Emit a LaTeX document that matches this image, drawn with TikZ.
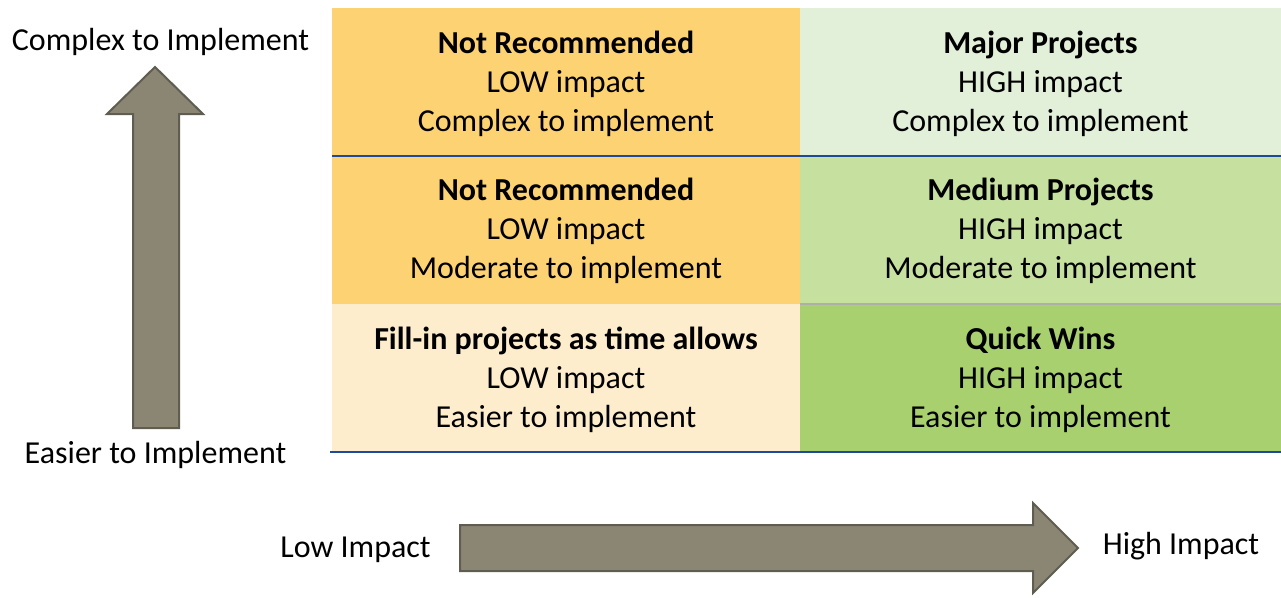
\documentclass[tikz,border=0pt]{standalone}
\usepackage{fontspec}
\setmainfont{Carlito}
\definecolor{orangec}{RGB}{253,210,115}
\definecolor{creamc}{RGB}{254,237,204}
\definecolor{lgreen}{RGB}{226,239,217}
\definecolor{mgreen}{RGB}{198,224,160}
\definecolor{dgreen}{RGB}{169,208,110}
\definecolor{bluel}{RGB}{31,73,154}
\definecolor{grayl}{RGB}{175,175,170}
\definecolor{arrfill}{RGB}{139,134,116}
\definecolor{arrdraw}{RGB}{95,92,80}
\tikzset{
  cell/.style={rectangle, inner sep=0pt, minimum width=468pt, minimum height=148pt},
  celltext/.style={inner sep=0pt, align=center, font=\fontsize{32}{38.8}\selectfont},
  axislabel/.style={inner sep=0pt, font=\fontsize{32}{38.8}\selectfont},
  bigarrow/.style={fill=arrfill, draw=arrdraw, line width=2pt, line join=miter},
  bline/.style={draw=bluel, line width=2pt},
  gline/.style={draw=grayl, line width=2pt}
}
\begin{document}
\begin{tikzpicture}[x=1pt,y=-1pt]
\useasboundingbox (0,0) rectangle (1281,597);
% cells
\node[cell, fill=orangec] (c11) at (566,81.5) {};
\node[cell, fill=lgreen, minimum width=481pt] (c12) at (1040.5,81.5) {};
\node[cell, fill=orangec] (c21) at (566,229.5) {};
\node[cell, fill=mgreen, minimum width=481pt] (c22) at (1040.5,229.5) {};
\node[cell, fill=creamc] (c31) at (566,377.5) {};
\node[cell, fill=dgreen, minimum width=481pt] (c32) at (1040.5,377.5) {};
% cell texts
\node[celltext] (t11) at ([yshift=-2.5pt]c11.center) {\textbf{Not Recommended}\\LOW impact\\Complex to implement};
\node[celltext] (t12) at ([yshift=-2.5pt]c12.center) {\textbf{Major Projects}\\HIGH impact\\Complex to implement};
\node[celltext] (t21) at ([yshift=-1.5pt]c21.center) {\textbf{Not Recommended}\\LOW impact\\Moderate to implement};
\node[celltext] (t22) at ([yshift=-1.5pt]c22.center) {\textbf{Medium Projects}\\HIGH impact\\Moderate to implement};
\node[celltext] (t31) at ([yshift=-2.5pt]c31.center) {\textbf{Fill-in projects as time allows}\\LOW impact\\Easier to implement};
\node[celltext] (t32) at ([yshift=-2.5pt]c32.center) {\textbf{Quick Wins}\\HIGH impact\\Easier to implement};
% grid lines
\draw[bline] (c11.south west) -- (c12.south east);
\draw[gline] (c22.south west) -- (c22.south east);
\draw[bline] ([xshift=-2pt]c31.south west) -- (c32.south east);
% axis labels
\node[axislabel] (cti) at (160.5,42) {Complex to Implement};
\node[axislabel] (eti) at (155.5,455) {Easier to Implement};
\node[axislabel] (li) at (355.5,550) {Low Impact};
\node[axislabel] (hi) at (1181,546) {High Impact};
% up arrow
\draw[bigarrow] (133,428) -- (133,114) -- (107,114) -- (155,67) -- (203,114) -- (179,114) -- (179,428) -- cycle;
% right arrow
\draw[bigarrow] (460,525) -- (1033,525) -- (1033,503) -- (1078,548) -- (1033,593) -- (1033,571) -- (460,571) -- cycle;
\end{tikzpicture}
\end{document}
